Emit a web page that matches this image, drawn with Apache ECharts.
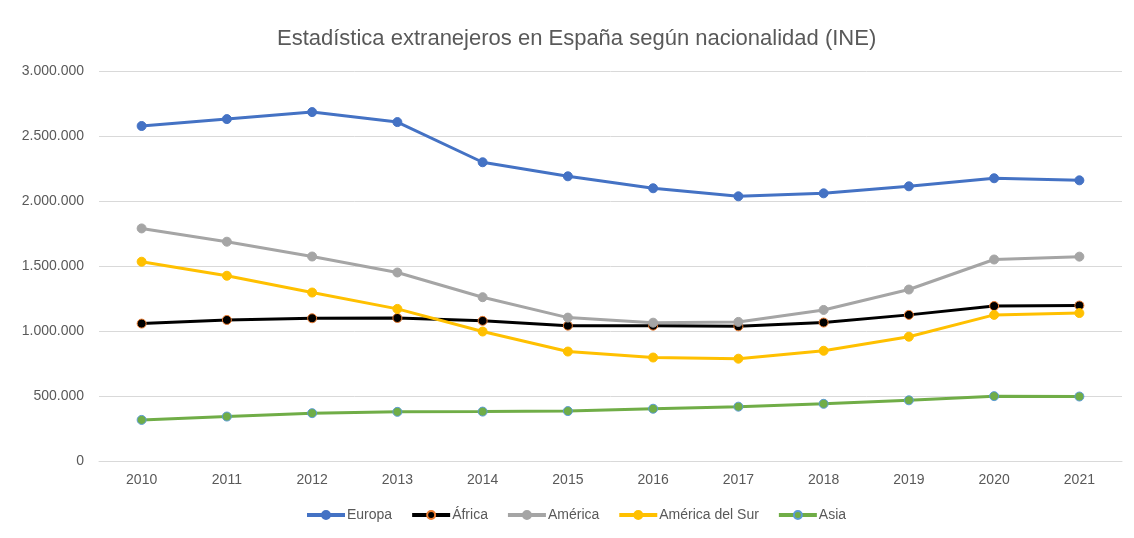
<!DOCTYPE html>
<html>
<head>
<meta charset="utf-8">
<script src="https://cdn.jsdelivr.net/npm/echarts@6/dist/echarts.min.js"></script>
<style>
  body { margin: 0; background: #fff; }
  #main { position: relative; width: 1134px; height: 538px; }
  #frame {
    position: absolute; left: 7px; top: 5px; right: 0; bottom: 0;
    border-left: 1px solid #d9d9d9; border-top: 1px solid #d9d9d9;
    pointer-events: none;
  }
</style>
</head>
<body>
<div id="main"><div id="frame"></div></div>
<script>
// años del eje x
const years = ['2010', '2011', '2012', '2013', '2014', '2015', '2016', '2017', '2018', '2019', '2020', '2021']
// población extranjera por nacionalidad
const europa = [2577000, 2630000, 2684000, 2607000, 2298000, 2190000, 2098000, 2036000, 2059000, 2113000, 2175000, 2159000]
const africa = [1057000, 1085000, 1098000, 1100000, 1078000, 1041000, 1041000, 1036000, 1065000, 1124000, 1192000, 1196000]
const america = [1789000, 1687000, 1573000, 1450000, 1260000, 1103000, 1064000, 1070000, 1162000, 1319000, 1550000, 1572000]
const americaSur = [1533000, 1425000, 1296000, 1170000, 996000, 842000, 796000, 787000, 848000, 956000, 1124000, 1138000]
const asia = [316000, 342000, 368000, 378000, 380000, 384000, 402000, 418000, 440000, 467000, 499000, 496000]

const fmt = (v) => String(v).replace(/\B(?=(\d{3})+(?!\d))/g, '.')

const makeSeries = (name, data, color, fill, border) => ({
  name,
  type: 'line',
  data,
  symbol: 'circle',
  symbolSize: 9,
  lineStyle: { color, width: 3 },
  itemStyle: { color: fill, borderColor: border, borderWidth: 1 },
  emphasis: { disabled: true },
})

const chart = echarts.init(document.getElementById('main'))
chart.setOption({
  animation: false,
  textStyle: { fontFamily: 'Liberation Sans' },
  title: {
    text: 'Estadística extranejeros en España según nacionalidad (INE)',
    left: 272,
    top: 23,
    textStyle: { fontSize: 22, fontWeight: 'normal', color: '#595959', fontFamily: 'Liberation Sans' },
  },
  legend: {
    bottom: 11,
    left: 300,
    itemWidth: 38,
    itemHeight: 10,
    itemGap: 18,
    lineStyle: { width: 4 },
    textStyle: { fontSize: 14, color: '#595959', padding: [0, 0, 0, -3] },
  },
  grid: { left: 99, right: 12, top: 71, bottom: 77 },
  xAxis: {
    type: 'category',
    data: years,
    boundaryGap: true,
    axisLine: { lineStyle: { color: '#d9d9d9', width: 1 } },
    axisTick: { show: false },
    axisLabel: { color: '#595959', fontSize: 14, margin: 12 },
  },
  yAxis: {
    type: 'value',
    min: 0,
    max: 3000000,
    interval: 500000,
    axisLine: { show: false },
    axisTick: { show: false },
    splitLine: { lineStyle: { color: '#d9d9d9', width: 1 } },
    axisLabel: { color: '#595959', fontSize: 14, margin: 15, formatter: fmt },
  },
  series: [
    makeSeries('Europa', europa, '#4472C4', '#4472C4', '#4472C4'),
    makeSeries('África', africa, '#000000', '#000000', '#ED7D31'),
    makeSeries('América', america, '#A5A5A5', '#A5A5A5', '#A5A5A5'),
    makeSeries('América del Sur', americaSur, '#FFC000', '#FFC000', '#FFC000'),
    makeSeries('Asia', asia, '#70AD47', '#70AD47', '#5B9BD5'),
  ],
})
</script>
</body>
</html>
